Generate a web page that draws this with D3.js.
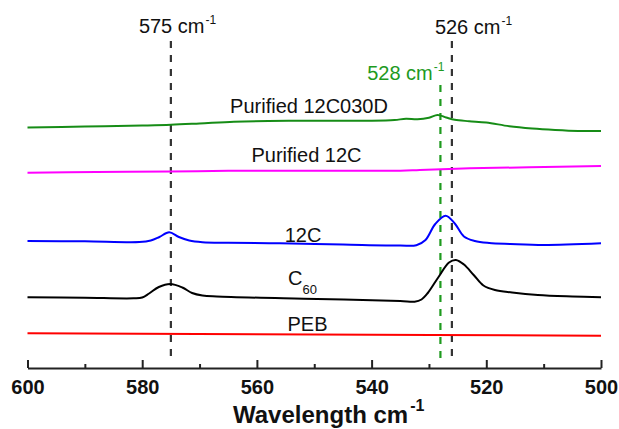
<!DOCTYPE html>
<html>
<head>
<meta charset="utf-8">
<script src="https://cdn.jsdelivr.net/npm/d3@7/dist/d3.min.js"></script>
<style>
  html, body { margin: 0; padding: 0; background: #fff; }
  svg { display: block; font-family: "Liberation Sans", Arial, Helvetica, sans-serif; }
</style>
</head>
<body>
<svg id="chart" width="619" height="429"></svg>
<script>
// Raman shift axis (cm^-1), drawn high to low
const majorTicks = [600, 580, 560, 540, 520, 500];
const minorTicks = [590, 570, 550, 530, 510];

// Stacked spectra, intensity in arbitrary units (offsets included)
const peb = [
  [600, 3.47], [550, 3.35], [500, 3.23]
];
const c60 = [
  [600, 7.07], [590, 7.02], [581.5, 6.97], [580.0, 7.05], [578.8, 7.45], [577.1, 8.10],
  [575.1, 8.40], [573.0, 8.05], [571.3, 7.50], [569.5, 7.25], [567, 7.15], [549.5, 6.90],
  [535, 6.70], [532.5, 6.63], [531.3, 6.85], [530.2, 7.50], [528.3, 9.13], [526.5, 10.55],
  [525.3, 10.80], [523.9, 10.35], [522.2, 9.30], [520.5, 8.25], [518.5, 7.80], [515.5, 7.55],
  [511, 7.30], [505, 7.15], [500, 7.07]
];
const c12 = [
  [600, 12.70], [590, 12.67], [580.5, 12.60], [578.5, 12.75], [577.0, 13.10], [575.3, 13.57],
  [573.6, 13.10], [571.8, 12.75], [569.5, 12.58], [565, 12.52], [556, 12.47], [545, 12.35],
  [535, 12.25], [532.2, 12.28], [530.6, 12.80], [528.9, 14.40], [527.1, 15.23], [525.5, 14.45],
  [523.9, 13.15], [522, 12.70], [519.5, 12.50], [515.8, 12.40], [510, 12.30], [500, 12.47]
];
const purified12C = [
  [600, 19.53], [588, 19.60], [575, 19.65], [565, 19.72], [550, 19.73], [535, 19.73],
  [531.6, 19.80], [522.9, 19.97], [512.5, 20.07], [500, 20.20]
];
const purified12C030D = [
  [600, 24.05], [590, 24.15], [580, 24.25], [575, 24.32], [570, 24.45], [564, 24.62],
  [558, 24.70], [550, 24.72], [546, 24.72], [540, 24.73], [536, 24.80], [534, 24.92],
  [532, 24.87], [530, 25.02], [528.5, 25.30], [527, 25.05], [525.5, 24.82], [523, 24.68],
  [520, 24.55], [516, 24.18], [512, 23.95], [508, 23.80], [504, 23.70], [500, 23.70]
];

// Peak markers
const peakPositions = [575, 526, 528];
const peakLabels = ["575 cm", "526 cm", "528 cm"];

const svg = d3.select("#chart");
const x = d3.scaleLinear().domain([600, 500]).range([27.5, 601]);
const y = d3.scaleLinear().domain([0, 36.8]).range([368, 0]);
const axisY = y(0);

const line = d3.line()
  .x(d => x(d[0]))
  .y(d => y(d[1]))
  .curve(d3.curveCatmullRom.alpha(0.5));

// Vertical dashed marker lines
const markers = [
  { w: peakPositions[0], color: "#333", top: 41 },
  { w: peakPositions[1], color: "#333", top: 41 },
  { w: peakPositions[2], color: "#1e9a1e", top: 85 }
];
svg.append("g").selectAll("line").data(markers).join("line")
  .attr("x1", d => x(d.w)).attr("x2", d => x(d.w))
  .attr("y1", d => d.top).attr("y2", 358)
  .attr("stroke", d => d.color)
  .attr("stroke-width", 2.2)
  .attr("stroke-dasharray", "7,7");

// Spectra
const series = [
  { data: peb, color: "#ff0000" },
  { data: c60, color: "#000000" },
  { data: c12, color: "#0000ff" },
  { data: purified12C, color: "#ff00ff" },
  { data: purified12C030D, color: "#168c16" }
];
svg.append("g").selectAll("path").data(series).join("path")
  .attr("d", d => line(d.data))
  .attr("fill", "none")
  .attr("stroke", d => d.color)
  .attr("stroke-width", 2)
  .attr("stroke-linejoin", "round");

// Series names
const nameStyle = sel => sel.attr("font-size", 20).attr("fill", "#111").attr("text-anchor", "middle");
svg.append("text").call(nameStyle).attr("x", 309).attr("y", 112.5).text("Purified 12C030D");
svg.append("text").call(nameStyle).attr("x", 306.5).attr("y", 161.5).text("Purified 12C");
svg.append("text").call(nameStyle).attr("x", 303).attr("y", 241.5).text("12C");
const c60Label = svg.append("text").attr("font-size", 20).attr("fill", "#111")
  .attr("x", 288).attr("y", 284.5);
c60Label.append("tspan").text("C");
c60Label.append("tspan").attr("font-size", 13).attr("dy", 9).text("60");
svg.append("text").call(nameStyle).attr("x", 307.5).attr("y", 331).text("PEB");

// Peak labels with superscript
function peakLabel(text, px, py, anchor, color) {
  const t = svg.append("text").attr("font-size", 20).attr("fill", color)
    .attr("x", px).attr("y", py).attr("text-anchor", anchor);
  t.append("tspan").text(text);
  t.append("tspan").attr("font-size", 12).attr("dx", 1).attr("dy", -9).text("-1");
}
peakLabel(peakLabels[0], x(peakPositions[0]) - 32, 33, "start", "#111");
peakLabel(peakLabels[1], x(peakPositions[1]) - 17, 34, "start", "#111");
peakLabel(peakLabels[2], x(peakPositions[2]) + 4, 80, "end", "#1e9a1e");

// Bottom axis: major ticks with labels, minor ticks without
const majorAxis = d3.axisBottom(x).tickValues(majorTicks)
  .tickSizeInner(-8).tickSizeOuter(0).tickPadding(12).tickFormat(d3.format("d"));
const gx = svg.append("g").attr("transform", `translate(0,${axisY})`).call(majorAxis);
gx.select(".domain").attr("stroke", "#222").attr("stroke-width", 2);
gx.selectAll(".tick line").attr("stroke", "#222").attr("stroke-width", 2);
gx.selectAll(".tick text")
  .attr("font-size", 20).attr("font-weight", "bold").attr("fill", "#111")
  .attr("font-family", "'Liberation Sans', Arial, sans-serif");

const minorAxis = d3.axisBottom(x).tickValues(minorTicks)
  .tickSizeInner(-4).tickSizeOuter(0).tickFormat("");
const gm = svg.append("g").attr("transform", `translate(0,${axisY})`).call(minorAxis);
gm.select(".domain").remove();
gm.selectAll(".tick line").attr("stroke", "#222").attr("stroke-width", 2);

// Axis title
const title = svg.append("text").attr("x", 233).attr("y", 423)
  .attr("font-size", 24).attr("font-weight", "bold").attr("fill", "#111");
title.append("tspan").text("Wavelength cm");
title.append("tspan").attr("font-size", 16).attr("dx", 2).attr("dy", -12).text("-1");
</script>
</body>
</html>
